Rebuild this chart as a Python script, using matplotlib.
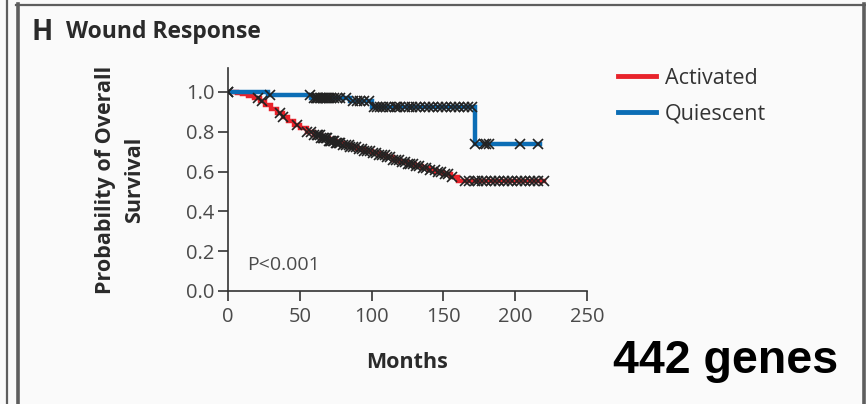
import matplotlib.pyplot as plt
import numpy as np
from matplotlib.lines import Line2D

# Kaplan-Meier steps: event times (months) and survival after each step
act_times = [0, 6, 10, 14, 18, 22, 26, 30, 34, 38, 42, 46, 50, 55, 60, 65, 70, 75,
             80, 85, 90, 95, 100, 105, 110, 115, 120, 125, 130, 135, 140, 145,
             150, 155, 160, 220]
act_surv = [1.0, 0.995, 0.99, 0.98, 0.97, 0.955, 0.935, 0.915, 0.895, 0.875,
            0.855, 0.835, 0.82, 0.80, 0.785, 0.77, 0.755, 0.745, 0.735, 0.725,
            0.715, 0.705, 0.695, 0.685, 0.672, 0.66, 0.65, 0.64, 0.63, 0.62, 0.61,
            0.60, 0.59, 0.575, 0.552, 0.552]

qui_times = [0, 28, 58, 85, 100, 172, 217]
qui_surv = [1.0, 0.985, 0.97, 0.955, 0.925, 0.74, 0.74]

# censored patients (months)
act_censor = [0, 21, 24, 36, 38, 48, 55, 58, 60, 62, 63, 64, 65, 66, 67, 68, 69,
              70, 71, 72, 73, 74, 75, 76, 77, 78, 80, 82, 84, 85, 87, 89, 91, 93,
              95, 97, 99, 101, 103, 105, 107, 109, 111, 113, 115, 117, 119, 121,
              123, 125, 127, 129, 131, 133, 136, 138, 141, 144, 146, 148, 151,
              153, 156, 165, 168, 172, 174, 177, 180, 183, 186, 189, 192, 195,
              198, 201, 204, 207, 210, 213, 216, 220]
qui_censor = [0, 29, 57, 60, 61, 62, 63, 64, 65, 66, 67, 68, 69, 70, 72, 74, 76,
              78, 82, 87, 90, 92, 95, 98, 102, 104, 106, 108, 110, 113, 116, 118,
              120, 123, 126, 128, 131, 134, 137, 140, 143, 146, 149, 152, 155,
              158, 161, 164, 167, 170, 172, 178, 180, 182, 203, 216]

groups = ['Activated', 'Quiescent']
colors = ['#e8232b', '#0b6db5']
xticks = [0, 50, 100, 150, 200, 250]
yticks = [0.0, 0.2, 0.4, 0.6, 0.8, 1.0]

W, H = 866, 404
plt.rcParams['font.family'] = ['Open Sans', 'DejaVu Sans']
fig = plt.figure(figsize=(W / 100, H / 100), dpi=100, facecolor='#fafafa')

ax = fig.add_axes([228 / W, 1 - 291 / H, (587 - 228) / W, (291 - 68) / H])
ax.set_facecolor('none')


def surv_at(times, surv, t):
    i = np.searchsorted(times, t, side='right') - 1
    return np.array(surv)[i]


series = [(act_times, act_surv, act_censor), (qui_times, qui_surv, qui_censor)]
for (t, s, c), col in zip(series, colors):
    ax.step(t, s, where='post', color=col, lw=3.2, solid_joinstyle='miter', zorder=2)
    ax.plot(c, surv_at(t, s, c), ls='none', marker='x', ms=6.5, mew=1.2,
            color='#222222', zorder=3)

ax.set_xlim(0, 250)
ax.set_ylim(0, 1.12)
ax.set_xticks(xticks)
ax.set_yticks(yticks)
ax.set_yticklabels([f'{v:.1f}' for v in yticks])
for side in ['top', 'right']:
    ax.spines[side].set_visible(False)
for side in ['left', 'bottom']:
    ax.spines[side].set_color('#333333')
    ax.spines[side].set_linewidth(1.2)
ax.tick_params(direction='out', length=7.5, width=1.2, color='#333333',
               labelsize=14.5, labelcolor='#4a4a4a')
ax.tick_params(axis='x', pad=4)
ax.tick_params(axis='y', pad=2)

ax.text(13, 0.13, 'P<0.001', fontsize=14, color='#4a4a4a', va='center')
ax.set_xlabel('Months', fontsize=15.5, fontweight='bold', color='#2a2a2a', labelpad=18)
ax.set_ylabel('Probability of Overall\nSurvival', fontsize=15.5, fontweight='bold',
              color='#2a2a2a', labelpad=30, linespacing=1.5)

fig.text(32 / W, 1 - 32 / H, 'H', fontsize=20, fontweight='bold', color='#2a2a2a',
         va='center')
fig.text(66 / W, 1 - 32 / H, 'Wound Response', fontsize=16.5, fontweight='bold',
         color='#2a2a2a', va='center')

handles = [Line2D([], [], color=c, lw=3.5) for c in colors]
fig.legend(handles, groups, loc='upper left', bbox_to_anchor=(609 / W, 1 - 59 / H),
           frameon=False, fontsize=15.5, labelcolor='#333333', handlelength=1.8,
           handletextpad=0.4, labelspacing=0.7, borderaxespad=0, borderpad=0.4)

fig.text(838 / W, 1 - 361 / H, '442 genes', fontsize=33.5, fontweight='bold',
         family='Liberation Sans', color='black', ha='right', va='center')

# panel frame
frame = '#5e5e5e'
fig.add_artist(Line2D([7 / W, 7 / W], [0, 1], color=frame, lw=1.6))
fig.add_artist(Line2D([17.5 / W, 17.5 / W], [0, 1 - 4 / H], color=frame, lw=2.6))
fig.add_artist(Line2D([16 / W, 1], [1 - 5 / H, 1 - 5 / H], color=frame, lw=1.6))
fig.add_artist(Line2D([863.5 / W, 863.5 / W], [0, 1 - 4 / H], color=frame, lw=2.6))

fig.savefig('out.png', dpi=100, facecolor=fig.get_facecolor())
